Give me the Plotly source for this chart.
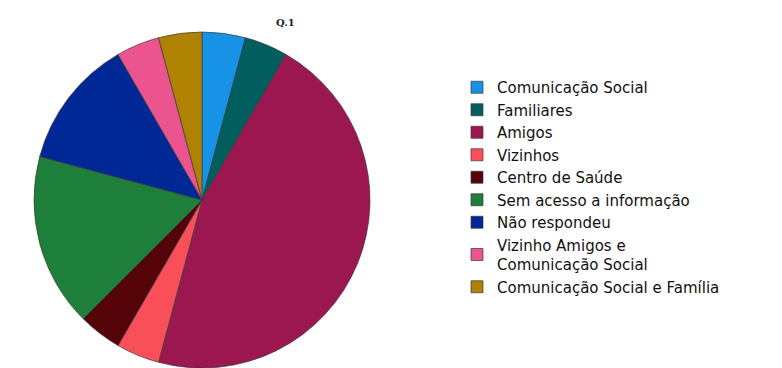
import plotly.graph_objects as go

# Q.1 responses (counts per information source)
labels = [
    "Comunicação Social",
    "Familiares",
    "Amigos",
    "Vizinhos",
    "Centro de Saúde",
    "Sem acesso a informação",
    "Não respondeu",
    "Vizinho Amigos e<br>Comunicação Social",
    "Comunicação Social e Família",
]
counts = [1, 1, 11, 1, 1, 4, 3, 1, 1]
colors = [
    "#1692E6",
    "#005E5E",
    "#9C1750",
    "#F84F58",
    "#540409",
    "#1D7F39",
    "#002796",
    "#EC5490",
    "#B08201",
]

W, H = 782, 368
cx, cy, r = 202, 200, 168  # pie centre / radius in pixels

fig = go.Figure(
    go.Pie(
        labels=labels,
        values=counts,
        sort=False,
        direction="clockwise",
        rotation=0,
        textinfo="none",
        hoverinfo="label+value+percent",
        marker=dict(colors=colors, line=dict(color="#3a3a3a", width=0.7)),
        domain=dict(
            x=[(cx - r) / W, (cx + r) / W],
            y=[(H - cy - r) / H, (H - cy + r) / H],
        ),
    )
)

fig.update_layout(
    width=W,
    height=H,
    margin=dict(l=0, r=0, t=0, b=0),
    paper_bgcolor="white",
    plot_bgcolor="white",
    showlegend=True,
    legend=dict(
        x=457 / W,
        xanchor="left",
        y=1 - 71 / H,
        yanchor="top",
        font=dict(family="DejaVu Sans", size=15, color="#111111"),
        bgcolor="rgba(0,0,0,0)",
        tracegroupgap=0,
    ),
    annotations=[
        dict(
            text="<b>Q.1</b>",
            x=285 / W,
            y=1 - 22 / H,
            xref="paper",
            yref="paper",
            xanchor="center",
            yanchor="middle",
            showarrow=False,
            font=dict(family="DejaVu Serif", size=10, color="#222222"),
        )
    ],
)

fig.write_html("out.html")
